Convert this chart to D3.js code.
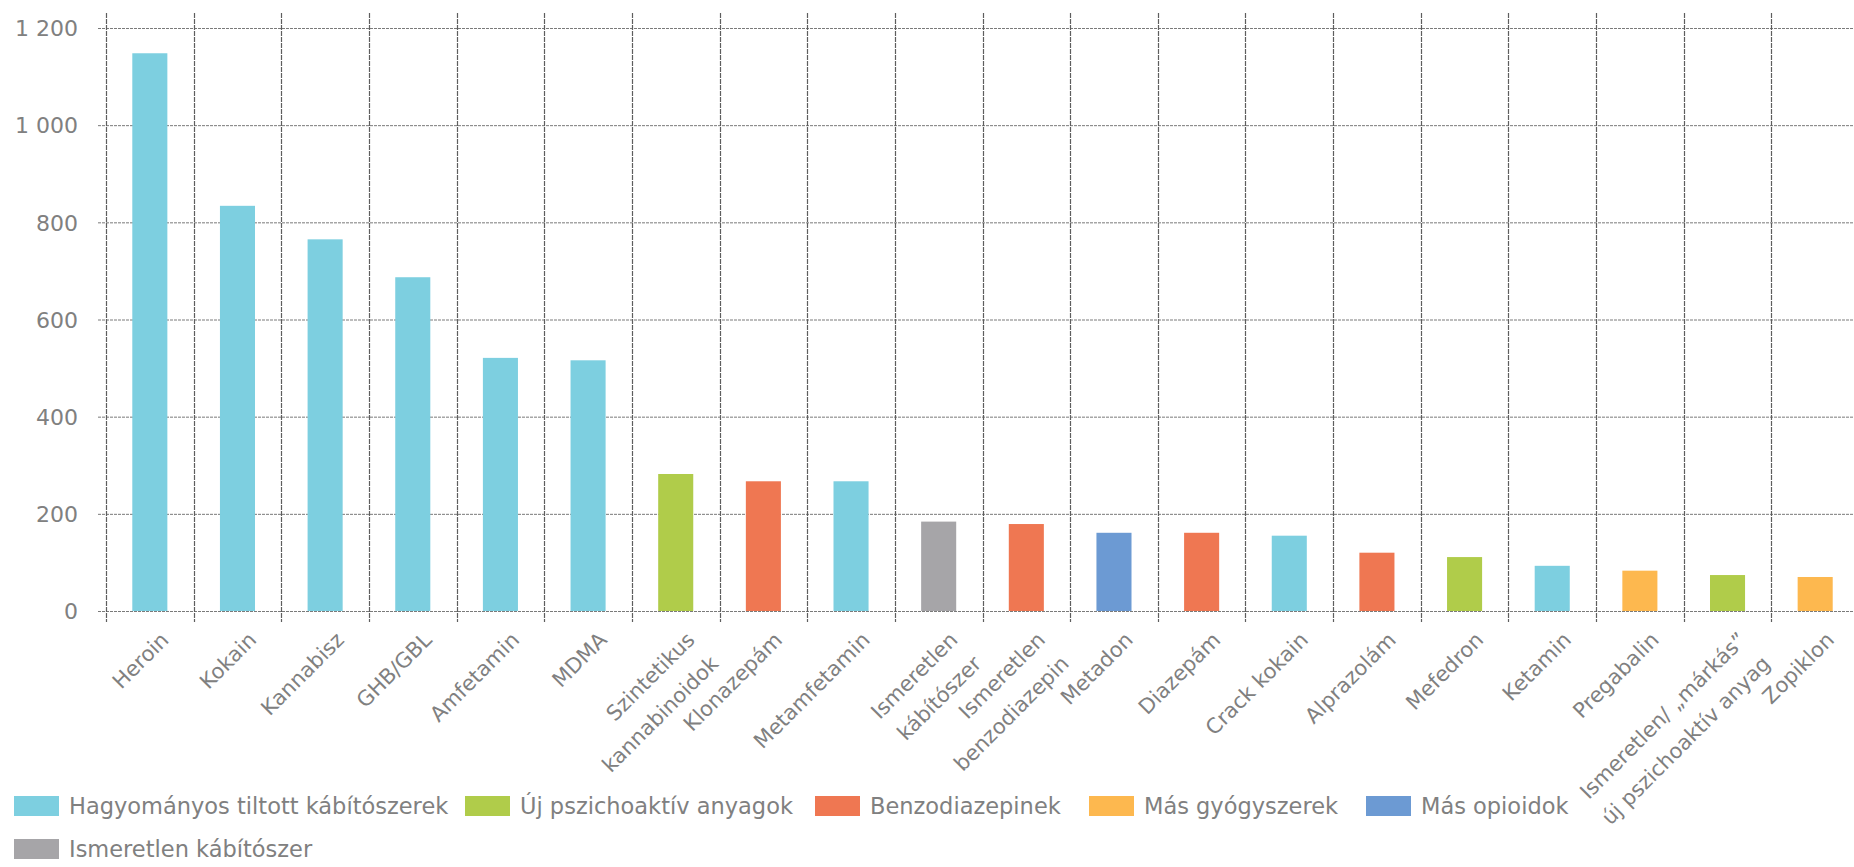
<!DOCTYPE html>
<html><head><meta charset="utf-8">
<script src="https://cdn.jsdelivr.net/npm/d3@7"></script>
<style>
html,body{margin:0;padding:0;background:#fff;}
svg{display:block;}
text{font-family:"DejaVu Sans",sans-serif;fill:#808080;}
</style></head>
<body>
<svg id="chart" width="1854" height="867"></svg>
<script>
const categories = ["Heroin","Kokain","Kannabisz","GHB/GBL","Amfetamin","MDMA","Szintetikus kannabinoidok","Klonazepám","Metamfetamin","Ismeretlen kábítószer","Ismeretlen benzodiazepin","Metadon","Diazepám","Crack kokain","Alprazolám","Mefedron","Ketamin","Pregabalin","Ismeretlen/ „márkás” új pszichoaktív anyag","Zopiklon"];
const labelLines = [["Heroin"],["Kokain"],["Kannabisz"],["GHB/GBL"],["Amfetamin"],["MDMA"],["Szintetikus","kannabinoidok"],["Klonazepám"],["Metamfetamin"],["Ismeretlen","kábítószer"],["Ismeretlen","benzodiazepin"],["Metadon"],["Diazepám"],["Crack kokain"],["Alprazolám"],["Mefedron"],["Ketamin"],["Pregabalin"],["Ismeretlen/ „márkás”","új pszichoaktív anyag"],["Zopiklon"]];
const values = [1148, 834, 765, 687, 521, 516, 282, 267, 267, 184, 179, 161, 161, 155, 120, 111, 93, 83, 74, 70];
const groupOf = ["trad","trad","trad","trad","trad","trad","nps","benzo","trad","unknown","benzo","opioid","benzo","trad","benzo","nps","trad","other","nps","other"];
const groupKeys = ["trad","nps","benzo","other","opioid","unknown"];
const groupNames = ["Hagyományos tiltott kábítószerek","Új pszichoaktív anyagok","Benzodiazepinek","Más gyógyszerek","Más opioidok","Ismeretlen kábítószer"];
const groupColors = ["#7dcfe0","#b0cc4a","#ef7752","#fdb84f","#6c9ad3","#a6a5a8"];
const yTicks = [0,200,400,600,800,1000,1200];

const svg = d3.select("#chart");
const plotLeft = 106, plotRight = 1859, plotTop = 28, plotBottom = 611;
const x = d3.scaleBand().domain(categories).range([plotLeft, plotRight]).paddingInner(0.6).paddingOuter(0.3);
const y = d3.scaleLinear().domain([0,1200]).range([plotBottom, plotTop]);
const color = d3.scaleOrdinal().domain(groupKeys).range(groupColors);
const loc = d3.formatLocale({decimal:",", thousands:"\u00a0", grouping:[3], currency:["",""]});
const fmt = loc.format(",d");

// horizontal gridlines
svg.append("g").selectAll("line").data(yTicks).join("line")
  .attr("x1", plotLeft-8).attr("x2", 1854)
  .attr("y1", d=>y(d)+0.5).attr("y2", d=>y(d)+0.5)
  .attr("stroke","#7a7a7a").attr("stroke-width",1).attr("stroke-dasharray","3,1");

// vertical gridlines at band boundaries
const step = x.step();
const bounds = categories.map(c => x(c) + x.bandwidth()/2 - step/2).concat([x(categories[categories.length-1]) + x.bandwidth()/2 + step/2]);
svg.append("g").selectAll("line").data(bounds).join("line")
  .attr("x1", d=>Math.round(d)+0.5).attr("x2", d=>Math.round(d)+0.5)
  .attr("y1", 13).attr("y2", plotBottom+11)
  .attr("stroke","#5e5e5e").attr("stroke-width",1.2).attr("stroke-dasharray","5,1");

// y axis labels
const yAxis = d3.axisLeft(y).tickValues(yTicks).tickFormat(fmt).tickSize(0).tickPadding(0);
const yg = svg.append("g").attr("transform",`translate(78,0)`).call(yAxis);
yg.select(".domain").remove();
yg.selectAll("text").style("font-family","DejaVu Sans").style("font-size","22px").attr("fill","#8a8a8a").attr("dy","0.35em");

// bars
svg.append("g").selectAll("rect").data(categories).join("rect")
  .attr("x", d=>x(d)).attr("width", x.bandwidth())
  .attr("y", (d,i)=>y(values[i])).attr("height", (d,i)=>y(0)-y(values[i]))
  .attr("fill", (d,i)=>color(groupOf[i]));

// x labels
const xl = svg.append("g").selectAll("text").data(categories).join("text")
  .attr("transform", d=>`translate(${x(d)+x.bandwidth()/2+15},636) rotate(-45)`)
  .attr("text-anchor","end")
  .style("font-size","21px").attr("fill","#808080");
xl.each(function(d,i){
  const lines = labelLines[i];
  const t = d3.select(this);
  lines.forEach((ln,j)=>{
    t.append("tspan").attr("x",0).attr("dy", j===0 ? "0.35em" : "1.6em").text(ln);
  });
});

// legend
const legendItems = [
  {k:0, x:14, y:806},{k:1, x:465, y:806},{k:2, x:815, y:806},{k:3, x:1089, y:806},{k:4, x:1366, y:806},{k:5, x:14, y:849}
];
const lg = svg.append("g").selectAll("g").data(legendItems).join("g")
  .attr("transform", d=>`translate(${d.x},${d.y})`);
lg.append("rect").attr("x",0).attr("y",-10).attr("width",45).attr("height",20).attr("fill",d=>groupColors[d.k]);
lg.append("text").attr("x",55).attr("y",0).attr("dy","0.35em").style("font-size","22.5px").attr("fill","#7d7d7d").text(d=>groupNames[d.k]);
</script>
</body></html>
